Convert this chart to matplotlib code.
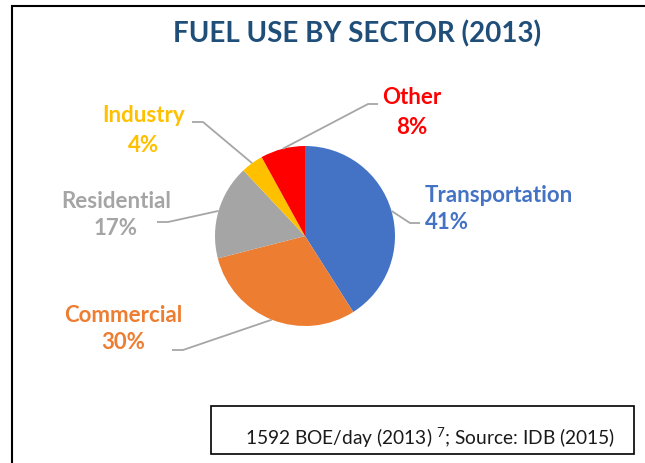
import numpy as np
import matplotlib
matplotlib.use("Agg")
import matplotlib.pyplot as plt

plt.rcParams['font.family'] = ['Lato', 'DejaVu Sans']
plt.rcParams['mathtext.fontset'] = 'custom'
plt.rcParams['mathtext.rm'] = 'Lato'
plt.rcParams['mathtext.it'] = 'Lato'

# ---- data ----
sectors = ['Transportation', 'Commercial', 'Residential', 'Industry', 'Other']
shares = [41, 30, 17, 4, 8]
colors = ['#4472C4', '#ED7D31', '#A5A5A5', '#FFC000', '#FF0000']
title = 'FUEL USE BY SECTOR (2013)'
source = '1592 BOE/day (2013) $^{7}$; Source: IDB (2015)'

# ---- layout (pixel coords, y from top) ----
W, H = 645, 464
cx, cy, r = 305, 237, 90
# label positions: (text x, name y, pct y, align, elbow x, end x)
label_pos = {
    'Transportation': (425, 195, 223, 'left', 410, 420),
    'Commercial': (123, 315, 343, 'center', 183, 172),
    'Residential': (116, 201, 229, 'center', 168, 157),
    'Industry': (144, 115, 145, 'center', 203, 192),
    'Other': (412, 98, 127, 'center', 368, 378),
}
elbow_y = {'Transportation': 224, 'Commercial': 351, 'Residential': 223,
           'Industry': 123, 'Other': 105}

fig = plt.figure(figsize=(W / 100, H / 100), dpi=100)
ax = fig.add_axes([0, 0, 1, 1])

wedges, _ = ax.pie(shares, colors=colors, startangle=90, counterclock=False,
                   center=(cx, H - cy), radius=r, frame=True,
                   wedgeprops=dict(linewidth=0))
ax.set_xlim(0, W)
ax.set_ylim(0, H)
ax.set_aspect('equal')
ax.axis('off')

# outer frame (left + top)
ax.plot([12, 12, W + 5], [-5, H - 7, H - 7], color='black', lw=1.5,
        solid_joinstyle='miter', clip_on=False)

ax.text(357, H - 34, title, ha='center', va='center', fontsize=20,
        fontweight='bold', color='#1F4E79')

for w, name, val, col in zip(wedges, sectors, shares, colors):
    ang = np.deg2rad((w.theta1 + w.theta2) / 2)
    px, py = cx + r * np.cos(ang), (H - cy) + r * np.sin(ang)
    tx, ny, py2, al, ex, endx = label_pos[name]
    ey = H - elbow_y[name]
    ax.plot([px, ex, endx], [py, ey, ey], color='#A6A6A6', lw=1.3,
            solid_capstyle='butt')
    ax.text(tx, H - ny, name, ha=al, va='center', fontsize=16,
            fontweight='bold', color=col)
    ax.text(tx, H - py2, f'{val}%', ha=al, va='center', fontsize=16,
            fontweight='bold', color=col)

# source box
ax.add_patch(plt.Rectangle((211, H - 455), 634 - 211, 48, fill=False,
                           edgecolor='black', lw=1.2))
ax.text(245, H - 438, source, ha='left', va='center', fontsize=13.8,
        color='#1a1a1a')

fig.savefig('out.png', dpi=100)
